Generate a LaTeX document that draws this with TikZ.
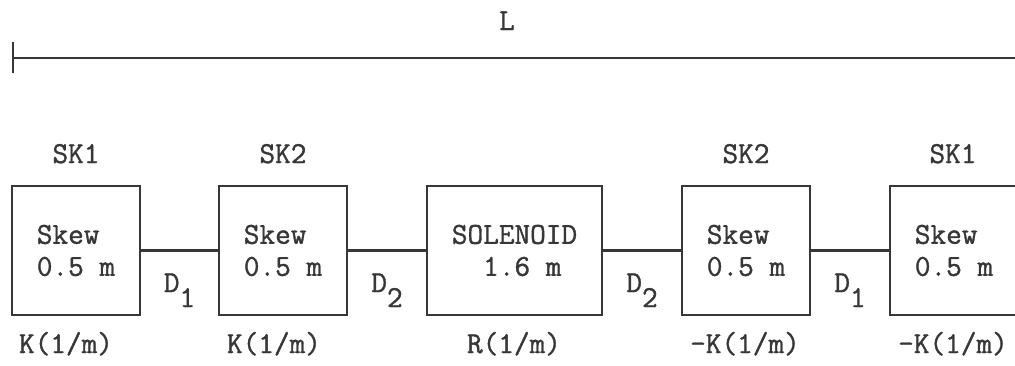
\documentclass[tikz,border=0pt]{standalone}
\usepackage{fontspec}
\newfontfamily\typew{Latin Modern Mono}[FakeBold=1.2]
\definecolor{ink}{RGB}{55,55,55}
\tikzset{
  blk/.style={draw=ink, line width=1.25pt, minimum width=64pt, minimum height=64.5pt, inner sep=0pt, align=left, text=ink, font=\typew\fontsize{15.2}{16}\selectfont},
  lbl/.style={anchor=base, inner sep=0pt, text=ink, font=\typew\fontsize{15.2}{16}\selectfont},
  wire/.style={draw=ink, line width=1.25pt}
}
\begin{document}
\begin{tikzpicture}[x=0.5pt,y=-0.5pt]
\clip (0,0) rectangle (1015,365);
\fill[white] (0,0) rectangle (1015,365);
% length line
\coordinate (Ltop) at (13,42);
\coordinate (Lbot) at (13,73);
\coordinate (Lleft) at (13,58);
\coordinate (Lright) at (1030,58);
\draw[wire] (Ltop) -- (Lbot);
\draw[wire] (Lleft) -- (Lright);
\node[lbl] (L) at (507,30) {L};
% boxes
\node[blk] (b1) at (76,250.5) {Skew\\0.5 m};
\node[blk] (b2) at (283,250.5) {Skew\\0.5 m};
\node[blk, minimum width=87.5pt] (sol) at (514.5,250.5) {SOLENOID\\\phantom{00}1.6 m};
\node[blk] (b4) at (746,250.5) {Skew\\0.5 m};
\node[blk] (b5) at (954,250.5) {Skew\\0.5 m};
% connectors
\draw[wire] (b1.east) -- (b2.west);
\draw[wire] (b2.east) -- (sol.west);
\draw[wire] (sol.east) -- (b4.west);
\draw[wire] (b4.east) -- (b5.west);
% top labels
\node[lbl] (t1) at (76,163) {SK1};
\node[lbl] (t2) at (283,163) {SK2};
\node[lbl] (t4) at (746,163) {SK2};
\node[lbl] (t5) at (953,163) {SK1};
% drift labels
\node[lbl] (d1) at (179.5,292) {D\raisebox{-7.5pt}{1}};
\node[lbl] (d2) at (387,292) {D\raisebox{-7.5pt}{2}};
\node[lbl] (d3) at (642,292) {D\raisebox{-7.5pt}{2}};
\node[lbl] (d4) at (850,292) {D\raisebox{-7.5pt}{1}};
% bottom labels
\node[lbl] (k1) at (66,353) {K(1/m)};
\node[lbl] (k2) at (274,353) {K(1/m)};
\node[lbl] (k3) at (514,353) {R(1/m)};
\node[lbl] (k4) at (745,353) {-K(1/m)};
\node[lbl] (k5) at (953,353) {-K(1/m)};
\end{tikzpicture}
\end{document}
